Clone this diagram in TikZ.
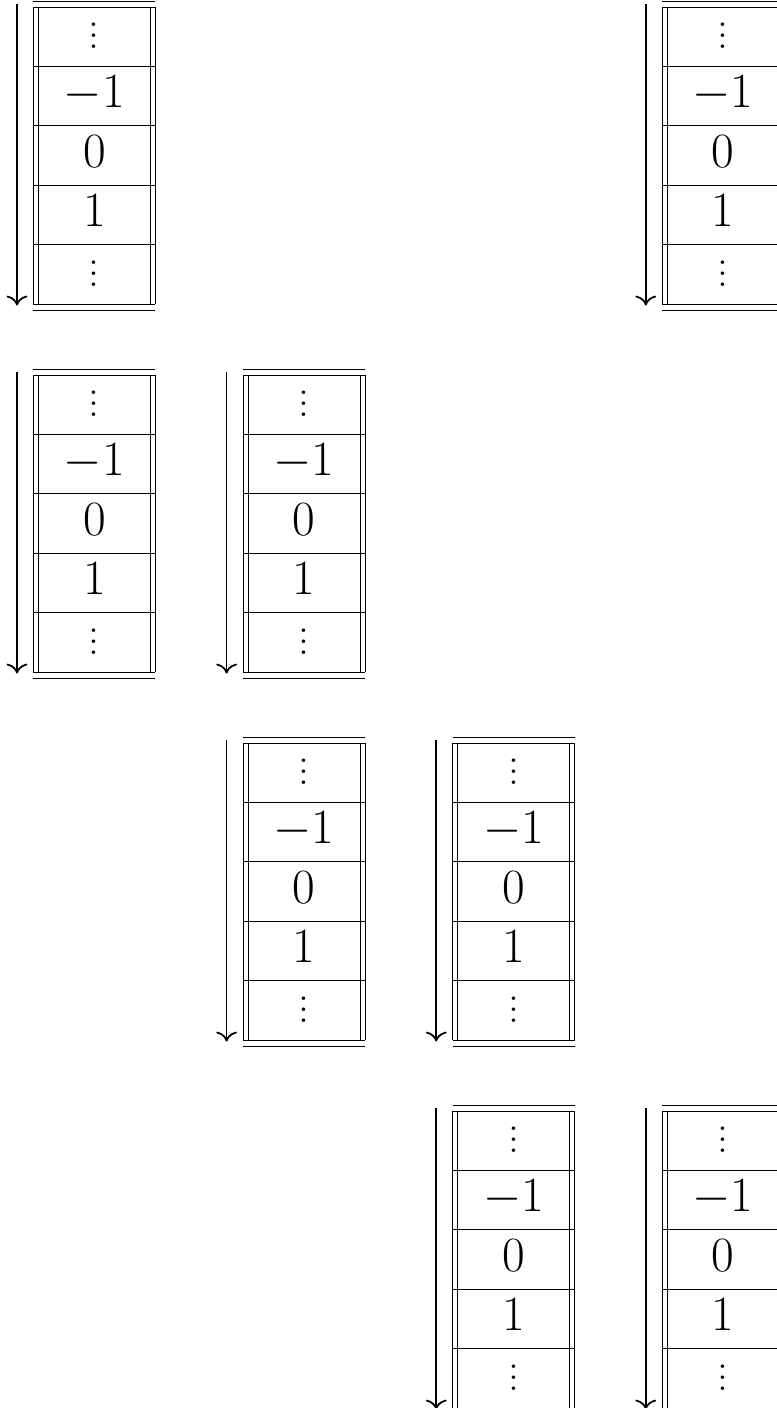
\documentclass[tikz,border=0pt]{standalone}
\usetikzlibrary{arrows.meta}
\tikzset{
  cell/.style={anchor=base,inner sep=0pt,font=\fontsize{23.5}{28}\selectfont},
  dots/.style={anchor=center,inner sep=0pt},
  rule/.style={line width=0.4pt},
  arr/.style={-{To[length=5pt,width=10.5pt]},line width=0.9pt}
}
\newcommand{\vdotz}{\vbox{\fontsize{22}{22}\selectfont\baselineskip5.55pt\lineskiplimit0pt\hbox{.}\hbox{.}\hbox{.}}}
% one tape: name, left x, top y (in px)
\newcommand{\tape}[3]{%
  \begin{scope}[shift={(#2,#3)}]
    \node[dots] (#1-1) at (61,28.7) {\vdotz};
    \foreach \v [count=\i from 2] in {-1,0,1}
      \node[cell] (#1-\i) at (61,{41.3+59.4*(\i-1)}) {$\v$};
    \node[dots] (#1-5) at (61,{28.7+59.4*4}) {\vdotz};
    \draw[rule] (0,-6) -- (122,-6);
    \foreach \k in {0,...,5}
      \draw[rule] (0,{59.4*\k}) -- (122,{59.4*\k});
    \draw[rule] (0,303) -- (122,303);
    \foreach \xx in {0,5,117,122}
      \draw[rule] (\xx,0) -- (\xx,297);
    \coordinate (#1-top) at (-16.3,-3);
    \coordinate (#1-bot) at (-16.3,298.5);
    \draw[arr] (#1-top) -- (#1-bot);
  \end{scope}}

\begin{document}
\begin{tikzpicture}[x=0.505pt,y=-0.505pt]
\useasboundingbox (0,0) rectangle (777,1408);
\tape{a1}{33.3}{7}
\tape{d1}{662.1}{7}
\tape{a2}{33.3}{375}
\tape{b2}{242.9}{375}
\tape{b3}{242.9}{743}
\tape{c3}{452.5}{743}
\tape{c4}{452.5}{1111}
\tape{d4}{662.1}{1111}
\end{tikzpicture}
\end{document}
